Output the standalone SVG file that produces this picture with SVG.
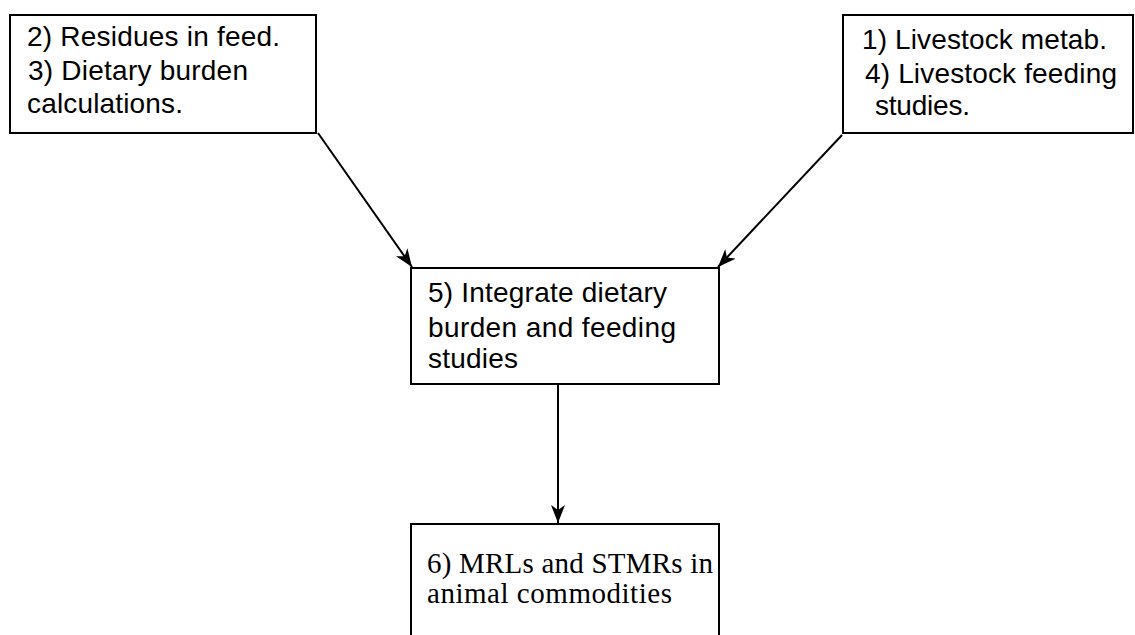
<svg xmlns="http://www.w3.org/2000/svg" width="1135" height="635" viewBox="0 0 1135 635">
<style>
.box{fill:#fff;stroke:#000;stroke-width:2}
.t{font-family:"Liberation Sans",Arial,sans-serif;font-size:28px;fill:#000}
.s{font-family:"Liberation Serif","Times New Roman",serif;font-size:29px;fill:#000}
.c{stroke:#000;stroke-width:2;fill:none}
</style>
<defs>
<marker id="ah" viewBox="0 0 18 14" refX="18" refY="7" markerWidth="18" markerHeight="14" markerUnits="userSpaceOnUse" orient="auto">
<path d="M0,0 L18,7 L0,14 L5,7 Z" fill="#000"/>
</marker>
</defs>
<rect width="1135" height="635" fill="#fff"/>
<g id="connectors">
<line class="c" x1="318" y1="133" x2="412" y2="267" marker-end="url(#ah)"/>
<line class="c" x1="842" y1="135" x2="718" y2="267" marker-end="url(#ah)"/>
<line class="c" x1="558" y1="385" x2="558" y2="523" marker-end="url(#ah)"/>
</g>
<g id="node1">
<rect class="box" x="10" y="15" width="306" height="118"/>
<text class="t" x="27" y="46" textLength="253" lengthAdjust="spacing">2) Residues in feed.</text>
<text class="t" x="28" y="80" textLength="220" lengthAdjust="spacing">3) Dietary burden</text>
<text class="t" x="27" y="113" textLength="156" lengthAdjust="spacing">calculations.</text>
</g>
<g id="node2">
<rect class="box" x="843" y="15" width="290" height="118"/>
<text class="t" x="862" y="49" textLength="245" lengthAdjust="spacing">1) Livestock metab.</text>
<text class="t" x="865" y="83" textLength="252" lengthAdjust="spacing">4) Livestock feeding</text>
<text class="t" x="875" y="115" textLength="95" lengthAdjust="spacing">studies.</text>
</g>
<g id="node3">
<rect class="box" x="411" y="268" width="308" height="116"/>
<text class="t" x="428" y="302" textLength="239" lengthAdjust="spacing">5) Integrate dietary</text>
<text class="t" x="428" y="337" textLength="248" lengthAdjust="spacing">burden and feeding</text>
<text class="t" x="428" y="368" textLength="90" lengthAdjust="spacing">studies</text>
</g>
<g id="node4">
<rect class="box" x="411" y="524" width="308" height="130"/>
<text class="s" x="427" y="573" textLength="286" lengthAdjust="spacing">6) MRLs and STMRs in</text>
<text class="s" x="427" y="603" textLength="245" lengthAdjust="spacing">animal commodities</text>
</g>
</svg>
